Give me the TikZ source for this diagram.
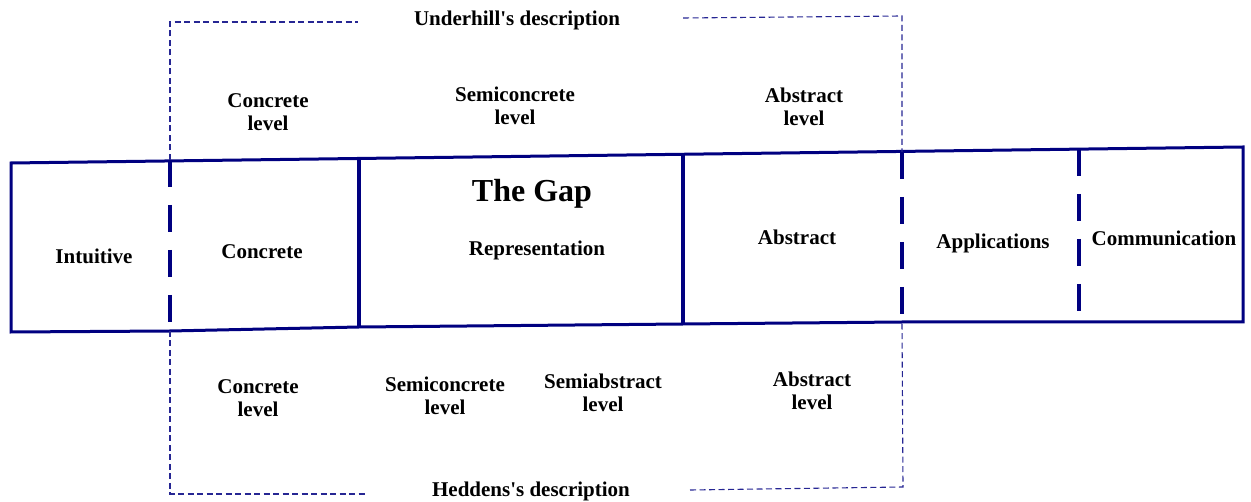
\documentclass[tikz,border=0pt]{standalone}
\usepackage{fontspec}
\setmainfont{Liberation Serif}
\definecolor{bandblue}{RGB}{0,0,128}

\begin{document}
\begin{tikzpicture}[x=1pt,y=-1pt,
  lbl/.style={font=\bfseries\fontsize{21}{23}\selectfont, align=center, inner sep=0pt},
  band/.style={draw=bandblue, line width=3pt, line join=miter},
  sepline/.style={draw=bandblue, line width=4pt},
  sepdash/.style={draw=bandblue, line width=4pt, dash pattern=on 27pt off 18pt},
  frameline/.style={draw=bandblue!85, line width=1.1pt, dash pattern=on 6pt off 3.5pt}]
\useasboundingbox (0,0) rectangle (1251,502);

% corners of the band
\coordinate (tl) at (11,163);
\coordinate (tr) at (1243,147);
\coordinate (br) at (1243,322);
\coordinate (bl) at (11,332);
% dividers, top and bottom
\coordinate (d1t) at (170,160);  \coordinate (d1b) at (170,331);
\coordinate (d2t) at (359,158);  \coordinate (d2b) at (359,327);
\coordinate (d3t) at (683,154);  \coordinate (d3b) at (683,324);
\coordinate (d4t) at (902,152);  \coordinate (d4b) at (902,322);
\coordinate (d5t) at (1079,149); \coordinate (d5b) at (1079,322);

\draw[band] (tl) -- (tr) -- (br) -- (d5b) -- (d4b) -- (d3b) -- (d2b) -- (d1b) -- (bl) -- cycle;
\draw[sepline] (d2t) -- (d2b);
\draw[sepline] (d3t) -- (d3b);
\draw[sepdash] (d1t) -- (170,324);
\draw[sepdash] (d4t) -- (902,316);
\draw[sepdash] (d5t) -- (1079,312);

% frames of the two descriptions
\coordinate (ua) at (170,22);  \coordinate (ub) at (358,22);
\coordinate (uc) at (683,18);  \coordinate (ud) at (902,16);
\coordinate (ha) at (170,494); \coordinate (hb) at (366,494);
\coordinate (hc) at (690,490); \coordinate (hd) at (903,487);
\draw[frameline] (d1t) -- (ua) -- (ub);
\draw[frameline] (uc) -- (ud) -- (d4t);
\draw[frameline] (d1b) -- (ha) -- (hb);
\draw[frameline] (hc) -- (hd) -- (d4b);

\node[lbl] (underhill) at (517,20) {Underhill\textquotesingle s description};
\node[lbl] (heddens) at (531,491) {Heddens\textquotesingle s description};

\node[lbl] (uconc) at (268,112) {Concrete\\level};
\node[lbl] (usemi) at (515,106) {Semiconcrete\\level};
\node[lbl] (uabs) at (804,107) {Abstract\\level};

\node[lbl] (intuitive) at (94,256) {Intuitive};
\node[lbl] (concrete) at (262,252) {Concrete};
\node[lbl, font=\bfseries\fontsize{32}{36}\selectfont] (gap) at (532,194) {The Gap};
\node[lbl] (repr) at (537,250) {Representation};
\node[lbl] (abstract) at (797,237) {Abstract};
\node[lbl] (appl) at (993,243) {Applications};
\node[lbl] (comm) at (1164,238) {Communication};

\node[lbl] (hconc) at (258,398) {Concrete\\level};
\node[lbl] (hsemic) at (445,396) {Semiconcrete\\level};
\node[lbl] (hsemia) at (603,393) {Semiabstract\\level};
\node[lbl] (habs) at (812,391) {Abstract\\level};
\end{tikzpicture}
\end{document}
